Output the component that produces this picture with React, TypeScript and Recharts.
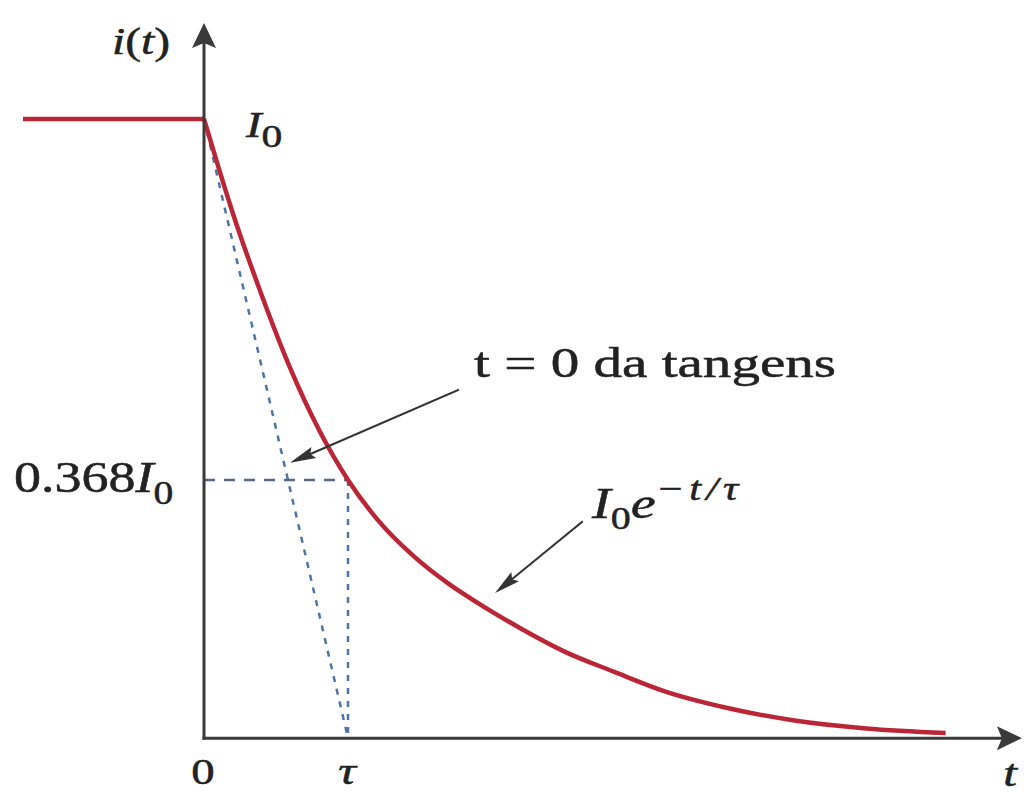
import { ComposedChart, Line, XAxis, YAxis, ReferenceLine } from 'recharts'

// ─── Data ─────────────────────────────────────────────────────────────────────

// time in units of τ, current in units of I0
const STEP_T = [-1.257, 0]
const STEP_I = [1, 1]

const DECAY_T = [0, 0.2, 0.4, 0.6, 0.8, 1.0, 1.2, 1.45, 1.7, 1.95, 2.2, 2.5, 2.85, 3.2, 3.65, 4.1, 4.6, 5.15]
const DECAY_I = [1.0, 0.835, 0.692, 0.563, 0.455, 0.368, 0.3, 0.236, 0.186, 0.145, 0.108, 0.068, 0.032, -0.002, -0.032, -0.053, -0.067, -0.075]

const TAU = 1
const LEVEL = 0.368 // 0.368·I0 marker
const BASE = -0.084 // level where the t axis is drawn

// ─── Layout ───────────────────────────────────────────────────────────────────

const W = 1026
const H = 795
const T_DOMAIN: [number, number] = [-1.4167, 5.7083]
const I_DOMAIN: [number, number] = [-0.1835, 1.2083]
const Y_TIP = 1.168
const X_TIP = 5.68

const RED = '#bb2637'
const INK = '#222'
const AXIS = '#3a3a3a'
const DASH_H = '#5a6886'
const DASH_V = '#4d76a6'
const FONT = '"Liberation Serif", "Times New Roman", serif'

type Row = { t: number; step?: number; decay?: number; tangent?: number; level?: number; tau?: number }

// one table, one column per series; each Line skips the rows it has no value in
const rows: Row[] = [
  ...STEP_T.map((t, k) => ({ t, step: STEP_I[k] })),
  ...DECAY_T.map((t, k) => ({ t, decay: DECAY_I[k] })),
  { t: 0, tangent: 1 },
  { t: TAU, tangent: BASE },
  { t: 0, level: LEVEL },
  { t: TAU, level: LEVEL },
  { t: TAU, tau: LEVEL },
  { t: TAU, tau: BASE },
].sort((a, b) => a.t - b.t)

// line with a filled arrowhead at its end point
const arrow = (len: number, half: number, notch: number, color: string, width: number) =>
  (props: any) => {
    const { x1, y1, x2, y2 } = props
    const dx = x2 - x1
    const dy = y2 - y1
    const d = Math.hypot(dx, dy) || 1
    const ux = dx / d
    const uy = dy / d
    const px = -uy
    const py = ux
    const bx = x2 - ux * len
    const by = y2 - uy * len
    const nx = x2 - ux * (len - notch)
    const ny = y2 - uy * (len - notch)
    return (
      <g>
        <line x1={x1} y1={y1} x2={nx} y2={ny} stroke={color} strokeWidth={width} strokeLinecap="square" />
        <polygon
          points={`${x2},${y2} ${bx + px * half},${by + py * half} ${nx},${ny} ${bx - px * half},${by - py * half}`}
          fill={color}
        />
      </g>
    )
  }

const Txt = ({
  x, y, size, sx = 1.3, italic = false, anchor = 'start', children,
}: {
  x: number; y: number; size: number; sx?: number; italic?: boolean; anchor?: string; children: any
}) => (
  <g transform={`translate(${x} ${y}) scale(${sx} 1)`}>
    <text
      x={0}
      y={0}
      fontSize={size}
      fontStyle={italic ? 'italic' : 'normal'}
      textAnchor={anchor as any}
      fill={INK}
      stroke={INK}
      strokeWidth={0.5}
      fontFamily={FONT}
    >
      {children}
    </text>
  </g>
)

const dashed = (key: keyof Row, color: string, dash: string) => (
  <Line dataKey={key} type="linear" stroke={color} strokeWidth={2.5} strokeDasharray={dash}
    dot={false} activeDot={false} connectNulls isAnimationActive={false} />
)

export default function App() {
  return (
    <div style={{ position: 'absolute', left: 0, top: 0, width: W, height: H, background: '#fff' }}>
      <ComposedChart data={rows} width={W} height={H} margin={{ top: 0, right: 0, bottom: 0, left: 0 }}>
        <XAxis dataKey="t" type="number" domain={T_DOMAIN} allowDataOverflow hide />
        <YAxis type="number" domain={I_DOMAIN} allowDataOverflow hide />

        {/* construction lines */}
        {dashed('tangent', DASH_V, '6 7')}
        {dashed('level', DASH_H, '11 9')}
        {dashed('tau', DASH_V, '6 7')}

        {/* current */}
        <Line dataKey="step" type="linear" stroke={RED} strokeWidth={4.5}
          dot={false} activeDot={false} connectNulls isAnimationActive={false} />
        <Line dataKey="decay" type="monotone" stroke={RED} strokeWidth={4.5}
          dot={false} activeDot={false} connectNulls isAnimationActive={false} />

        {/* axes */}
        <ReferenceLine segment={[{ x: 0, y: BASE }, { x: 0, y: Y_TIP }]}
          shape={arrow(25, 12, 5, AXIS, 3)} />
        <ReferenceLine segment={[{ x: 0, y: BASE }, { x: X_TIP, y: BASE }]}
          shape={arrow(25, 12, 5, AXIS, 3)} />

        {/* callouts */}
        <ReferenceLine segment={[{ x: 1.764, y: 0.5256 }, { x: 0.597, y: 0.398 }]}
          shape={arrow(26, 6, 4, '#333', 2)} />
        <ReferenceLine segment={[{ x: 2.625, y: 0.2945 }, { x: 2.021, y: 0.17 }]}
          shape={arrow(26, 6, 4, '#333', 2)} />
      </ComposedChart>

      <svg width={W} height={H} style={{ position: 'absolute', left: 0, top: 0, pointerEvents: 'none' }}>
        <Txt x={112} y={54} size={38} sx={1.25}>
          <tspan fontStyle="italic">i</tspan>(<tspan fontStyle="italic">t</tspan>)
        </Txt>

        <Txt x={246} y={137} size={36} sx={1.3}>
          <tspan fontStyle="italic">I</tspan>
          <tspan dy={10} fontSize={32}>0</tspan>
        </Txt>

        <Txt x={474} y={377} size={42} sx={1.36}>t = 0 da tangens</Txt>

        <Txt x={14} y={492} size={45} sx={1.2}>
          0.368<tspan fontStyle="italic">I</tspan>
          <tspan dy={12} fontSize={33}>0</tspan>
        </Txt>

        <Txt x={592} y={518} size={45} sx={1.25}>
          <tspan fontStyle="italic">I</tspan>
          <tspan dy={11} fontSize={32}>0</tspan>
          <tspan dy={-11} fontStyle="italic">e</tspan>
          <tspan dy={-18} fontSize={34} fontStyle="italic" letterSpacing={4}>−t/τ</tspan>
        </Txt>

        <Txt x={203} y={784} size={36} sx={1.3} anchor="middle">0</Txt>
        <Txt x={347} y={784} size={38} sx={1.3} anchor="middle" italic>τ</Txt>
        <Txt x={1010} y={786} size={38} sx={1.3} anchor="middle" italic>t</Txt>
      </svg>
    </div>
  )
}
